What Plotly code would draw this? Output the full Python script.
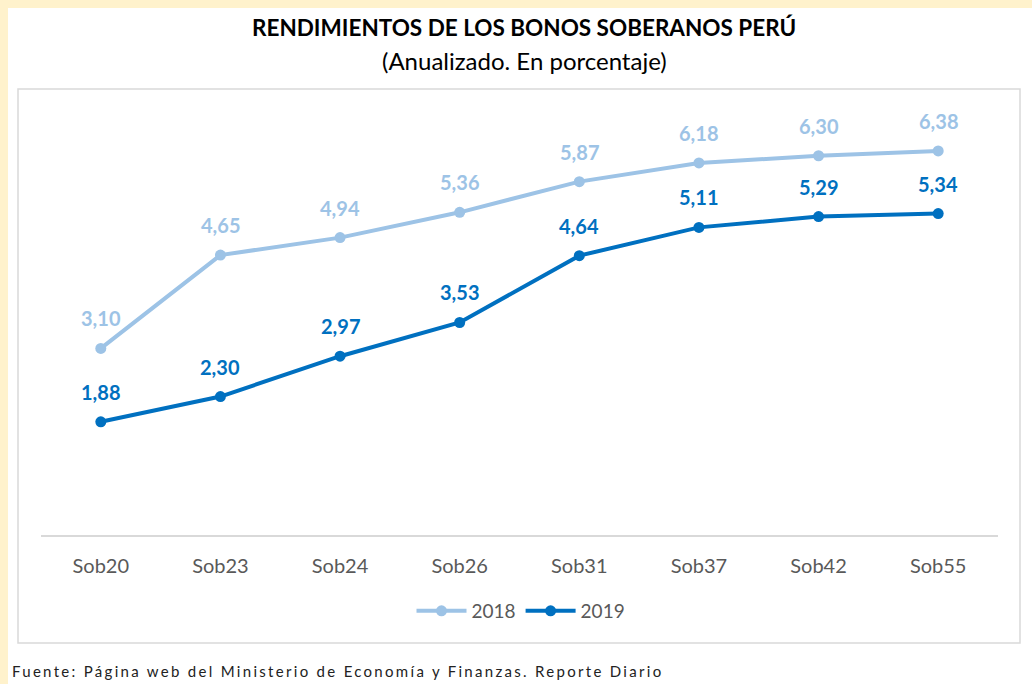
import plotly.graph_objects as go

# bonos soberanos - rendimientos anualizados (%)
bonos = ["Sob20", "Sob23", "Sob24", "Sob26", "Sob31", "Sob37", "Sob42", "Sob55"]
rend_2018 = [3.10, 4.65, 4.94, 5.36, 5.87, 6.18, 6.30, 6.38]
rend_2019 = [1.88, 2.30, 2.97, 3.53, 4.64, 5.11, 5.29, 5.34]
series = [("2018", rend_2018, "#9DC3E6"), ("2019", rend_2019, "#0070C0")]

W, H = 1032, 684
FONT = "Lato"

fig = go.Figure()
annotations = []
for name, vals, color in series:
    fig.add_trace(go.Scatter(
        x=bonos, y=vals, name=name, mode="lines+markers",
        line=dict(color=color, width=4),
        marker=dict(color=color, size=11),
    ))
    # etiquetas de datos por encima del punto
    for b, v in zip(bonos, vals):
        annotations.append(dict(
            x=b, y=v, text="<b>" + f"{v:.2f}".replace(".", ",") + "</b>",
            showarrow=False, yshift=30, xanchor="center", yanchor="middle",
            font=dict(family=FONT, size=20, color=color)))

# fondo crema, panel blanco y borde gris del grafico
shapes = [
    dict(type="rect", xref="paper", yref="paper", x0=0, x1=1, y0=0, y1=1,
         fillcolor="#FFF2CC", line_width=0, layer="below"),
    dict(type="rect", xref="paper", yref="paper", x0=8 / W, x1=1, y0=0, y1=1 - 8 / H,
         fillcolor="white", line_width=0, layer="below"),
    dict(type="rect", xref="paper", yref="paper", x0=18 / W, x1=1020 / W,
         y0=1 - 643 / H, y1=1 - 89 / H, fillcolor="rgba(0,0,0,0)",
         line=dict(color="#D9D9D9", width=1.5), layer="below"),
]

annotations += [
    dict(text="<b>RENDIMIENTOS DE LOS BONOS SOBERANOS PERÚ</b>", x=524 / W, y=1 - 27 / H,
         xref="paper", yref="paper", showarrow=False, xanchor="center", yanchor="middle",
         font=dict(family=FONT, size=22.5, color="black")),
    dict(text="(Anualizado. En porcentaje)", x=524 / W, y=1 - 60 / H,
         xref="paper", yref="paper", showarrow=False, xanchor="center", yanchor="middle",
         font=dict(family=FONT, size=24, color="black")),
    dict(text='<span style="letter-spacing:2.3px">Fuente: Página web del Ministerio de Economía y Finanzas. Reporte Diario</span>',
         x=10 / W, y=1 - 671 / H, xref="paper", yref="paper", showarrow=False,
         xanchor="left", yanchor="middle",
         font=dict(family=FONT, size=15, color="#222222")),
]

fig.update_layout(
    width=W, height=H, autosize=False,
    margin=dict(l=0, r=0, t=0, b=0),
    paper_bgcolor="white", plot_bgcolor="rgba(0,0,0,0)",
    shapes=shapes, annotations=annotations,
    showlegend=True,
    legend=dict(orientation="h", x=521 / W, xanchor="center", y=1 - 611 / H, yanchor="middle",
                font=dict(family=FONT, size=19, color="#595959"), bgcolor="rgba(0,0,0,0)",
                itemwidth=50, traceorder="normal"),
    xaxis=dict(domain=[41 / W, 998 / W], range=[-0.5, 7.5], showgrid=False,
               showline=True, linecolor="#D9D9D9", linewidth=1.5, ticks="",
               tickfont=dict(family=FONT, size=20, color="#595959"), ticklabelstandoff=12),
    yaxis=dict(domain=[1 - 535 / H, 1 - 113.6 / H], range=[0, 7], visible=False),
)

fig.write_html("out.html", config={"displayModeBar": False},
               post_script="document.body.style.margin='0px';")
